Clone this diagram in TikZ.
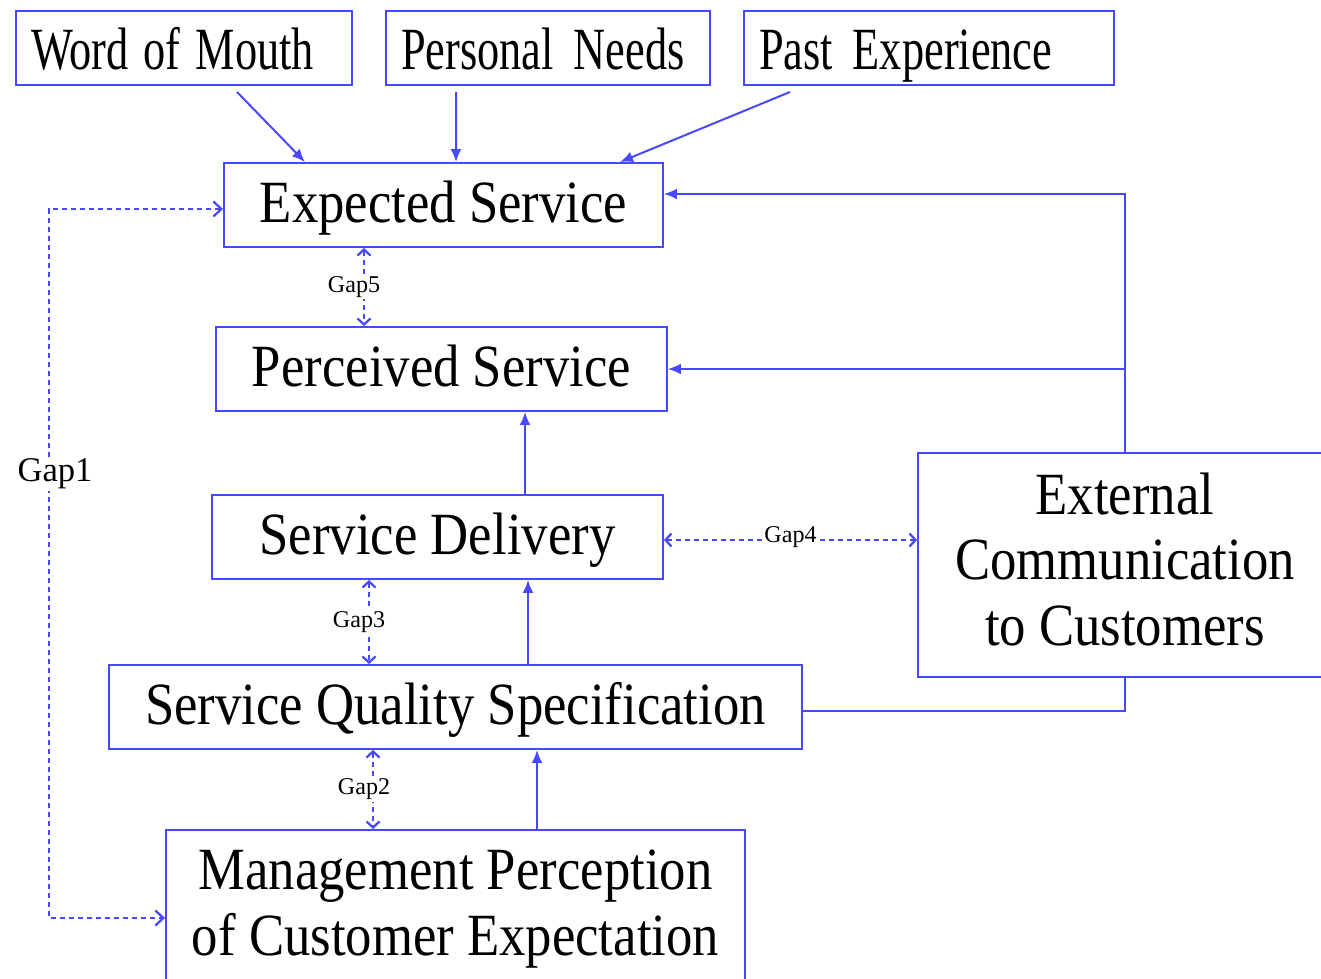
\documentclass[tikz,border=0pt]{standalone}
\usepackage{fontspec}
\setmainfont{Liberation Serif}
\newfontfamily\boxfont[FakeStretch=0.88]{Liberation Serif}
\newfontfamily\sourcefont[FakeStretch=0.74]{Liberation Serif}
\usetikzlibrary{calc,arrows.meta}
\definecolor{boxblue}{RGB}{72,72,255}
\tikzset{
	boxbase/.style={draw=boxblue, line width=0.04cm, inner sep=0pt, align=center, font=\boxfont\fontsize{34.1}{37.3}\selectfont},
	box/.style={boxbase, minimum height=1.68cm, text height=0.9cm, text depth=0.18cm},
	topbox/.style={draw=boxblue, line width=0.04cm, minimum height=1.48cm, inner xsep=0.3cm, inner ysep=0pt, text height=1.0cm, text depth=0.12cm, align=left, font=\sourcefont\fontsize{34.1}{40}\selectfont},
	feed/.style={draw=boxblue, line width=0.04cm, -{Latex[length=0.26cm,width=0.22cm]}},
	plainfeed/.style={draw=boxblue, line width=0.04cm},
	gapline/.style={draw=boxblue, line width=0.045cm, dash pattern=on 0.11cm off 0.07cm, {Straight Barb[length=0.12cm,width=0.26cm]}-{Straight Barb[length=0.12cm,width=0.26cm]}},
	gaplabel/.style={fill=white, inner sep=1pt, font=\fontsize{13.7}{16}\selectfont}
}

\begin{document}
\begin{tikzpicture}[x=0.02cm, y=-0.02cm]
		%%%%% START %%%%%
		\useasboundingbox (0,0) rectangle (1321,979);
		
		% influences on the expectation
		\node[topbox, text width=6.12cm] (mouth) at (184,48) {Word\hspace{-0.08em} of\hspace{-0.08em} Mouth};
		\node[topbox, text width=5.88cm] (needs) at (548,48) {Personal Needs};
		\node[topbox, text width=6.8cm] (past) at (929,48) {Past Experience};
		
		% main column
		\node[box, minimum width=8.78cm] (expected) at (443.5,205) {Expected Service};
		\node[box, minimum width=9.02cm] (perceived) at (441.5,369) {Perceived Service};
		\node[box, minimum width=9.02cm] (delivery) at (437.5,537) {Service Delivery};
		\node[box, minimum width=13.86cm] (spec) at (455.5,707) {Service Quality Specification};
		\node[boxbase, minimum width=11.58cm, minimum height=3.16cm] (mgmt) at (455.5,909) {Management Perception\\of Customer Expectation};
		\node[boxbase, minimum width=8.28cm, minimum height=4.48cm] (external) at (1125,565) {External\\Communication\\to Customers\rule[-0.25cm]{0pt}{0pt}};
		
		\draw[feed] ($(mouth.south)+(53,6)$) -- ($(expected.north)+(-138.5,0)$);
		\draw[feed] ($(needs.south)+(-92,6)$) -- ($(expected.north)+(12.5,0)$);
		\draw[feed] ($(past.south)+(-139,6)$) -- ($(expected.north)+(176.5,0)$);
		
		\draw[feed] ($(delivery.north)+(87.5,0)$) coordinate (sd) -- (sd |- perceived.south);
		\draw[feed] ($(spec.north)+(72.5,0)$) coordinate (sq) -- (sq |- delivery.south);
		\draw[feed] ($(mgmt.north)+(81.5,0)$) coordinate (mp) -- (mp |- spec.south);
		
		\draw[feed] (external.north) |- ($(expected.east)+(0,-11)$);
		\draw[feed] (external.north) |- (perceived.east);
		\draw[plainfeed] (external.south) |- ($(spec.east)+(0,4)$);
		
		% the gaps
		\draw[gapline] ($(expected.south)+(-79.5,0)$) coordinate (g5) -- node[gaplabel, xshift=-0.2cm] {Gap5} (g5 |- perceived.north);
		\draw[gapline] ($(delivery.south)+(-68.5,0)$) coordinate (g3) -- node[gaplabel, xshift=-0.2cm] {Gap3} (g3 |- spec.north);
		\draw[gapline] ($(spec.south)+(-82.5,0)$) coordinate (g2) -- node[gaplabel, xshift=-0.18cm] {Gap2} (g2 |- mgmt.north);
		\draw[gapline] ($(delivery.east)+(0,3)$) coordinate (g4) -- node[gaplabel, yshift=0.06cm] {Gap4} (g4 -| external.west);
		
		\draw[gapline, {Straight Barb[length=0.16cm,width=0.3cm]}-{Straight Barb[length=0.16cm,width=0.3cm]}] ($(expected.west)+(0,4)$) -| ($(mgmt.west)+(-116,9)$) -- ($(mgmt.west)+(0,9)$);
		\node[fill=white, inner sep=1pt, font=\fontsize{19.7}{22}\selectfont] (gapone) at (55,474) {Gap1};
		
		%%%%% END %%%%%
	\end{tikzpicture}
\end{document}
